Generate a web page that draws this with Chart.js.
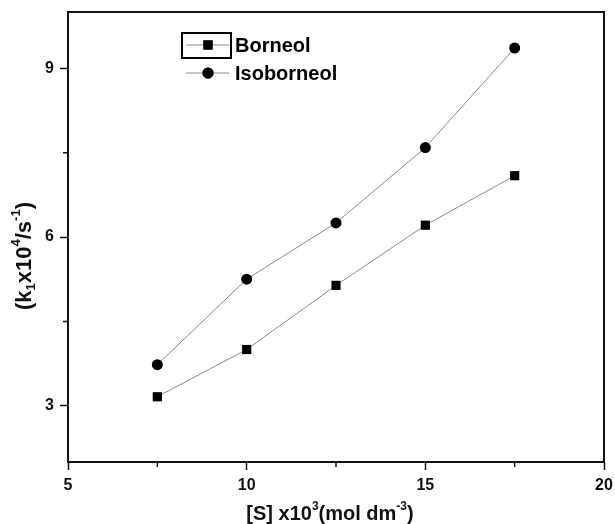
<!DOCTYPE html>
<html>
<head>
<meta charset="utf-8">
<script src="https://cdn.jsdelivr.net/npm/chart.js@4"></script>
<style>
  html, body { margin: 0; padding: 0; background: #fff; }
  canvas { display: block; }
</style>
</head>
<body>
<canvas id="kineticsChart" width="615" height="524"></canvas>
<script>
// substrate concentration [S] x10^3 (mol dm^-3)
const concentrations = [7.5, 10, 12.5, 15, 17.5];
// k1 x10^4 (s^-1)
const borneol = [3.16, 4.0, 5.14, 6.21, 7.09];
const isoborneol = [3.73, 5.25, 6.25, 7.59, 9.36];

const xTicks = [5, 10, 15, 20];
const yTicks = [3, 6, 9];
const xMinor = [7.5, 12.5, 17.5];
const yMinor = [4.5, 7.5];

const FONT = 'Liberation Sans, Arial, sans-serif';

const toPoints = ys => concentrations.map((x, i) => ({ x: x, y: ys[i] }));

// draws a run of text pieces (normal / sup / sub) centred on 0,0
function drawRich(ctx, parts, size) {
    const pieces = parts.map(p => {
        const s = p.mode ? Math.round(size * 0.6) : size;
        ctx.font = 'bold ' + s + 'px ' + FONT;
        return { t: p.t, s: s, mode: p.mode, w: ctx.measureText(p.t).width };
    });
    const total = pieces.reduce((a, p) => a + p.w, 0);
    let x = -total / 2;
    ctx.textBaseline = 'middle';
    ctx.textAlign = 'left';
    pieces.forEach(p => {
        ctx.font = 'bold ' + p.s + 'px ' + FONT;
        let dy = 0;
        if (p.mode === 'sup') dy = -size * 0.38;
        if (p.mode === 'sub') dy = size * 0.3;
        ctx.fillText(p.t, x, dy);
        x += p.w;
    });
}

const framePlugin = {
    id: 'frame',
    afterDraw(chart) {
        const ctx = chart.ctx;
        const a = chart.chartArea;
        const xs = chart.scales.x, ys = chart.scales.y;
        ctx.save();
        // box
        ctx.strokeStyle = '#111';
        ctx.lineWidth = 2;
        ctx.strokeRect(a.left, a.top, a.right - a.left, a.bottom - a.top);

        // minor ticks
        ctx.lineWidth = 1.5;
        ctx.beginPath();
        xMinor.forEach(v => {
            const px = xs.getPixelForValue(v);
            ctx.moveTo(px, a.bottom);
            ctx.lineTo(px, a.bottom + 5);
        });
        yMinor.forEach(v => {
            const py = ys.getPixelForValue(v);
            ctx.moveTo(a.left, py);
            ctx.lineTo(a.left - 5, py);
        });
        ctx.stroke();

        // axis titles
        ctx.fillStyle = '#111';
        ctx.save();
        ctx.translate(330, 514);
        drawRich(ctx, [
            { t: '[S] x10' }, { t: '3', mode: 'sup' }, { t: '(mol dm' },
            { t: '-3', mode: 'sup' }, { t: ')' }
        ], 20);
        ctx.restore();

        ctx.save();
        ctx.translate(25, 256);
        ctx.rotate(-Math.PI / 2);
        drawRich(ctx, [
            { t: '(k' }, { t: '1', mode: 'sub' }, { t: 'x10' }, { t: '4', mode: 'sup' },
            { t: '/s' }, { t: '-1', mode: 'sup' }, { t: ')' }
        ], 22);
        ctx.restore();

        // legend
        const legend = [
            { label: 'Borneol', style: 'rect', y: 45 },
            { label: 'Isoborneol', style: 'circle', y: 73 }
        ];
        legend.forEach((item, i) => {
            const ds = chart.data.datasets[i];
            ctx.strokeStyle = ds.borderColor;
            ctx.lineWidth = 1;
            ctx.beginPath();
            ctx.moveTo(186, item.y);
            ctx.lineTo(229, item.y);
            ctx.stroke();
            Chart.helpers.drawPoint(ctx, {
                pointStyle: item.style, radius: ds.pointRadius, rotation: 0, borderWidth: 0
            }, 208, item.y);
            ctx.fillStyle = '#000';
            ctx.fill();
            ctx.font = 'bold 20px ' + FONT;
            ctx.textAlign = 'left';
            ctx.textBaseline = 'middle';
            ctx.fillText(item.label, 235, item.y + 1);
        });
        ctx.strokeStyle = '#000';
        ctx.lineWidth = 2;
        ctx.strokeRect(182, 33, 49, 25);
        ctx.restore();
    }
};

const ctx = document.getElementById('kineticsChart').getContext('2d');
new Chart(ctx, {
    type: 'scatter',
    data: {
        datasets: [{
            label: 'Borneol',
            data: toPoints(borneol),
            showLine: true,
            borderColor: '#8a8a8a',
            borderWidth: 1,
            pointStyle: 'rect',
            pointRadius: 6.5,
            pointBackgroundColor: '#000',
            pointBorderWidth: 0
        }, {
            label: 'Isoborneol',
            data: toPoints(isoborneol),
            showLine: true,
            borderColor: '#8a8a8a',
            borderWidth: 1,
            pointStyle: 'circle',
            pointRadius: 5.5,
            pointBackgroundColor: '#000',
            pointBorderWidth: 0
        }]
    },
    options: {
        responsive: false,
        animation: false,
        devicePixelRatio: 1,
        layout: { padding: { top: 12, right: 11, left: 0, bottom: 0 } },
        plugins: {
            legend: { display: false },
            tooltip: { enabled: false }
        },
        scales: {
            x: {
                type: 'linear',
                min: 5,
                max: 20,
                afterBuildTicks: s => { s.ticks = xTicks.map(v => ({ value: v })); },
                afterFit: s => { s.height = 62; s.paddingLeft = 0; s.paddingRight = 0; },
                grid: { drawOnChartArea: false, tickLength: 8, tickColor: '#111', tickWidth: 1.5 },
                border: { display: false },
                ticks: { color: '#111', padding: 6, maxRotation: 0, font: { family: FONT, size: 16, weight: 'bold' } }
            },
            y: {
                type: 'linear',
                min: 2,
                max: 10,
                afterBuildTicks: s => { s.ticks = yTicks.map(v => ({ value: v })); },
                afterFit: s => { s.width = 68; s.paddingTop = 0; s.paddingBottom = 0; },
                grid: { drawOnChartArea: false, tickLength: 8, tickColor: '#111', tickWidth: 1.5 },
                border: { display: false },
                ticks: { color: '#111', padding: 6, font: { family: FONT, size: 16, weight: 'bold' } }
            }
        }
    },
    plugins: [framePlugin]
});
</script>
</body>
</html>
